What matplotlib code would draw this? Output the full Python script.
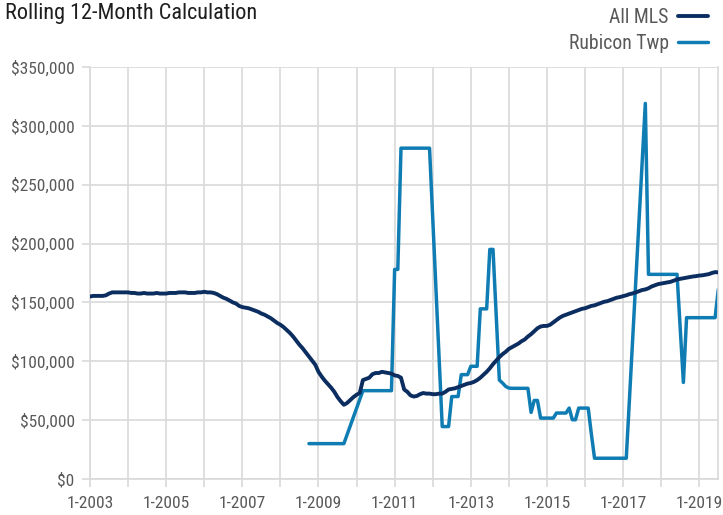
import matplotlib
matplotlib.use("Agg")
import matplotlib.pyplot as plt
from matplotlib import font_manager
import numpy as np

# ---- data (monthly, rolling 12-month values, in $1000s) ----
start_year = 2003
all_mls_k = [
    155, 155.5, 155.5, 155.5, 155.5, 156, 157.5, 158.5, 158.5, 158.5, 158.5, 158.5,   # 2003
    158.5, 158, 158, 157.5, 157.5, 158, 157.5, 157.5, 157.5, 158, 157.5, 157.5,       # 2004
    157.5, 158, 158, 158, 158.5, 158.5, 158.5, 158, 158, 158, 158.5, 158.5,           # 2005
    159, 158.5, 158.5, 158, 157, 155.5, 154, 153, 151.5, 150, 149, 147,               # 2006
    146, 145.5, 145, 144, 143, 142, 140.5, 139.5, 138, 136.5, 134.5, 132.5,           # 2007
    131, 129, 126.5, 124, 121, 117.5, 114, 111, 107.5, 104, 100.5, 97,                # 2008
    91, 87, 83.5, 80.5, 77.5, 74, 69.5, 66, 63, 64.5, 67, 69.5,                       # 2009
    71.5, 73, 84, 85, 86, 89, 90, 90, 91, 90.5, 90, 89.5,                             # 2010
    88, 87.5, 86, 76, 74, 71, 70, 70.5, 72, 73, 72.5, 72.5,                           # 2011
    72, 72, 72.5, 72.5, 74, 76, 76.5, 77, 78, 79, 80, 81,                             # 2012
    81.5, 82.5, 84, 86, 88.5, 91, 94, 97.5, 100.5, 103.5, 106, 108,                   # 2013
    110.5, 112, 113.5, 115, 117, 118.5, 121, 123, 125.5, 128, 129.5, 130,             # 2014
    130, 131, 133, 135, 137, 138.5, 139.5, 140.5, 141.5, 142.5, 143.5, 144.5,         # 2015
    145, 146, 147, 147.5, 148.5, 149.5, 150.5, 151, 152, 153, 154, 154.5,             # 2016
    155.3, 156, 157, 157.6, 158.5, 159.5, 160.5, 161, 162, 163.5, 164.5, 165.5,       # 2017
    166, 166.5, 167, 167.5, 168.5, 169.5, 170, 170.5, 171, 171.5, 172, 172.3,         # 2018
    172.8, 173, 173.5, 174, 175, 175.7, 175.5,                                        # 2019
]

rubicon_start_month = 69  # Oct 2008
rubicon_k = [
    30, 30, 30, 30, 30, 30, 30, 30, 30, 30, 30, 30,                 # Oct08-Sep09
    37.5, 45, 52.5, 60, 67.5, 75,                                   # Oct09-Mar10
    75, 75, 75, 75, 75, 75, 75, 75, 75,                             # Apr10-Dec10
    178, 178, 281, 281, 281, 281, 281, 281, 281, 281, 281, 281,     # 2011
    222, 163, 104, 44.5, 44.5, 44.5, 70, 70, 70, 88.6, 88.6, 88.6,  # 2012
    95.7, 95.7, 95.7, 144.5, 144.5, 144.5, 195, 195, 140, 84, 81.5, 78.6,  # 2013
    77.2, 77, 77, 77, 77, 77, 77, 56.5, 66.7, 66.7, 51.7, 51.7,     # 2014
    51.7, 51.7, 51.7, 56, 56, 56, 56, 60.2, 50.3, 50.3, 60.2, 60.2, # 2015
    60.2, 60.2, 38, 17.6, 17.6, 17.6, 17.6, 17.6, 17.6, 17.6, 17.6, 17.6,  # 2016
    17.6, 17.6, 67.8, 118, 168, 218, 269, 319, 173.8, 173.8, 173.8, 173.8,  # 2017
    173.8, 173.8, 173.8, 173.8, 173.8, 173.8, 128, 82, 137, 137, 137, 137,  # 2018
    137, 137, 137, 137, 137, 137, 161,                              # 2019
]

series_names = ["All MLS", "Rubicon Twp"]
title = "Rolling 12-Month Calculation"
y_ticks = [0, 50000, 100000, 150000, 200000, 250000, 300000, 350000]
x_tick_years = list(range(2003, 2020))

# ---- styling ----
avail = {f.name for f in font_manager.fontManager.ttflist}
fam = "DejaVu Sans"
for cand in ["Roboto Condensed", "Liberation Sans Narrow", "Archivo Narrow",
             "Barlow Semi Condensed"]:
    if cand in avail:
        fam = cand
        break
plt.rcParams["font.family"] = [fam, "DejaVu Sans"]

navy = "#0b2d5f"
blue = "#0f7db3"
grid_c = "#d9d9d9"
txt_c = "#595959"

fig = plt.figure(figsize=(7.23, 5.15), dpi=100)
ax = fig.add_axes([0.1245, 0.070, 0.869, 0.800])

m_all = np.arange(len(all_mls_k))
m_rub = np.arange(len(rubicon_k)) + rubicon_start_month
ax.plot(m_all, np.array(all_mls_k) * 1000, color=navy, lw=2.8, label=series_names[0],
        solid_joinstyle="round", solid_capstyle="round", zorder=3)
ax.plot(m_rub, np.array(rubicon_k) * 1000, color=blue, lw=2.5, label=series_names[1],
        solid_joinstyle="round", solid_capstyle="round", zorder=2)

ax.set_xlim(0, len(all_mls_k) - 1)
ax.set_ylim(0, 350000)

xt = [(y - start_year) * 12 for y in x_tick_years]
xl = [f"1-{y}" if (y - start_year) % 2 == 0 else "" for y in x_tick_years]
ax.set_xticks(xt)
ax.set_xticklabels(xl)
ax.set_yticks(y_ticks)
ax.set_yticklabels([f"${v:,.0f}" for v in y_ticks])

ax.grid(True, color=grid_c, lw=1.2, zorder=0)
ax.set_axisbelow(True)
ax.spines["top"].set_visible(False)
for s in ["left", "bottom", "right"]:
    ax.spines[s].set_color(grid_c)
    ax.spines[s].set_linewidth(1.2)
ax.tick_params(axis="both", colors=grid_c, length=6, width=1.2, labelcolor=txt_c,
               labelsize=12.5)
ax.tick_params(axis="x", pad=6)
ax.tick_params(axis="y", pad=5)

fig.text(0.007, 0.994, title, ha="left", va="top", fontsize=16, color="#1e1e1e")

leg = fig.legend(loc="upper right", bbox_to_anchor=(0.996, 1.008), frameon=False,
                 markerfirst=False, fontsize=14.2, handlelength=1.55, handletextpad=0.45,
                 labelspacing=0.35, labelcolor=txt_c, borderaxespad=0.2)

fig.savefig("out.png", dpi=100)
